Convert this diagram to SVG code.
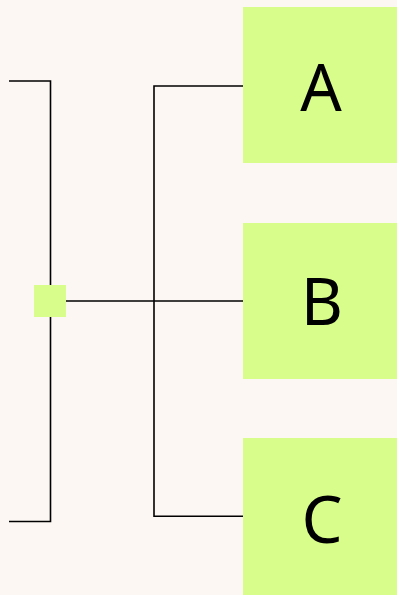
<svg xmlns="http://www.w3.org/2000/svg" width="397" height="595" viewBox="0 0 397 595">
<style>
.box{fill:#d8fd8a}
.lbl{font-family:"Noto Sans","Open Sans",sans-serif;font-size:65px;fill:#000;text-anchor:middle}
.ln{fill:none;stroke:#000;stroke-width:1.6}
</style>
<rect width="397" height="595" fill="#fcf7f2"/>
<g id="connectors">
<path class="ln" d="M9,81 H50.5 V521.5 H9"/>
<path class="ln" d="M243,86 H154 V516.3 H243"/>
<path class="ln" d="M154,301 H243"/>
<path class="ln" d="M66,301 H154" stroke-width="2.4"/>
</g>
<g id="root"><rect class="box" x="34" y="285" width="32" height="32"/></g>
<g id="A"><rect class="box" x="243" y="7" width="154" height="156"/><text class="lbl" x="321" y="111">A</text></g>
<g id="B"><rect class="box" x="243" y="223" width="154" height="156"/><text class="lbl" x="322" y="325">B</text></g>
<g id="C"><rect class="box" x="243" y="438" width="154" height="157"/><text class="lbl" x="322" y="543">C</text></g>
</svg>
